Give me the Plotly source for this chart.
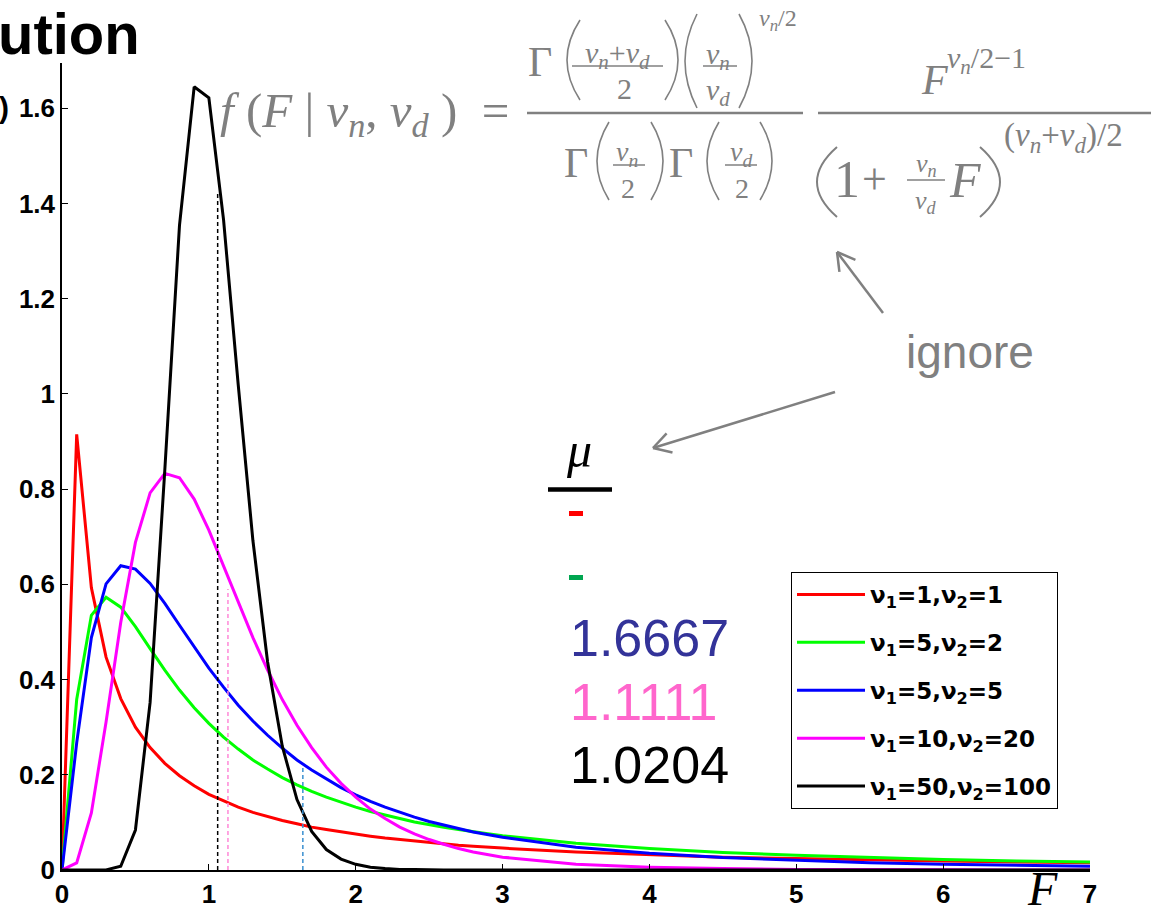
import math
import plotly.graph_objects as go

# ---------------- data ----------------
F_grid = [0.0, 0.1, 0.2, 0.3, 0.4, 0.5, 0.6, 0.7, 0.8, 0.9,
          1.0, 1.1, 1.2, 1.3, 1.4, 1.5, 1.6, 1.7, 1.8, 1.9,
          2.0, 2.1, 2.2, 2.3, 2.4, 2.5, 2.6, 2.7, 2.8, 2.9,
          3.0, 3.5, 4.0, 4.5, 5.0, 5.5, 6.0, 6.5, 7.0]

pdf_1_1 = [0.0, 0.915, 0.593, 0.447, 0.360, 0.300, 0.257, 0.224, 0.198, 0.177,
           0.159, 0.145, 0.132, 0.121, 0.112, 0.104, 0.097, 0.090, 0.085, 0.080,
           0.075, 0.071, 0.067, 0.064, 0.060, 0.058, 0.055, 0.052, 0.050, 0.048,
           0.046, 0.038, 0.032, 0.027, 0.024, 0.021, 0.019, 0.017, 0.015]

pdf_5_2 = [0.0, 0.358, 0.535, 0.573, 0.552, 0.511, 0.465, 0.420, 0.378, 0.341,
           0.308, 0.279, 0.254, 0.231, 0.212, 0.194, 0.179, 0.165, 0.153, 0.142,
           0.132, 0.123, 0.115, 0.108, 0.101, 0.095, 0.090, 0.085, 0.080, 0.076,
           0.072, 0.056, 0.045, 0.037, 0.031, 0.026, 0.022, 0.019, 0.017]

pdf_5_5 = [0.0, 0.267, 0.488, 0.601, 0.639, 0.632, 0.602, 0.560, 0.514, 0.468,
           0.424, 0.384, 0.346, 0.313, 0.283, 0.256, 0.231, 0.210, 0.191, 0.173,
           0.158, 0.144, 0.132, 0.121, 0.111, 0.102, 0.094, 0.087, 0.080, 0.074,
           0.069, 0.048, 0.035, 0.026, 0.020, 0.015, 0.012, 0.010, 0.008]

pdf_10_20 = [0.0, 0.015, 0.120, 0.311, 0.520, 0.688, 0.792, 0.833, 0.824, 0.779,
             0.714, 0.640, 0.563, 0.488, 0.420, 0.358, 0.304, 0.257, 0.216, 0.182,
             0.153, 0.128, 0.108, 0.090, 0.076, 0.064, 0.054, 0.045, 0.038, 0.032,
             0.027, 0.012, 0.006, 0.003, 0.001, 0.001, 0.0, 0.0, 0.0]

pdf_50_100 = [0.0, 0.0, 0.0, 0.0002, 0.008, 0.084, 0.352, 0.840, 1.354, 1.645,
              1.622, 1.366, 1.019, 0.692, 0.437, 0.260, 0.148, 0.081, 0.043, 0.023,
              0.012, 0.006, 0.003, 0.001, 0.001, 0.0, 0.0, 0.0, 0.0, 0.0,
              0.0, 0.0, 0.0, 0.0, 0.0, 0.0, 0.0, 0.0, 0.0]

series_values = [pdf_1_1, pdf_5_2, pdf_5_5, pdf_10_20, pdf_50_100]
series_names = ["ν<sub>1</sub>=1,ν<sub>2</sub>=1",
                "ν<sub>1</sub>=5,ν<sub>2</sub>=2",
                "ν<sub>1</sub>=5,ν<sub>2</sub>=5",
                "ν<sub>1</sub>=10,ν<sub>2</sub>=20",
                "ν<sub>1</sub>=50,ν<sub>2</sub>=100"]
series_colors = ["#FF0000", "#00FF00", "#0000FF", "#FF00FF", "#000000"]

# dashed mean markers (x position, height where they meet the curve)
mean_line_x = [1.06, 1.13, 1.64]
mean_line_top = [1.42, 0.59, 0.22]
mean_line_colors = ["#000000", "#FF88D8", "#3A8FD0"]

mean_labels = ["1.6667", "1.1111", "1.0204"]
mean_label_colors = ["#333399", "#FF66CC", "#000000"]

x_ticks = [0, 1, 2, 3, 4, 5, 6, 7]
y_ticks = [0, 0.2, 0.4, 0.6, 0.8, 1.0, 1.2, 1.4, 1.6]
y_tick_text = ["0", "0.2", "0.4", "0.6", "0.8", "1", "1.2", "1.4", "1.6"]

# ---------------- layout helpers ----------------
W, H = 1153, 915
PL, PR, PT, PB = 62, 1090, 63, 870


def px(x):
    return (x - PL) / (PR - PL)


def py(y):
    return (PB - y) / (PB - PT)


GRAY = "#808080"
SERIF = "Liberation Serif, Times New Roman, serif"
SANS = "Liberation Sans, Arial, sans-serif"

fig = go.Figure()
for i, (vals, name, col) in enumerate(zip(series_values, series_names, series_colors)):
    fig.add_trace(go.Scatter(x=F_grid, y=vals, mode="lines", name=name,
                             legendgroup=str(i),
                             line=dict(color=col, width=3)))

shapes = []
annotations = []

# dashed vertical mean lines
for xm, top, col in zip(mean_line_x, mean_line_top, mean_line_colors):
    shapes.append(dict(type="line", xref="x", yref="y", x0=xm, x1=xm, y0=0, y1=top,
                       line=dict(color=col, width=1.5, dash="4px,3px")))


def pline(x0, y0, x1, y1, color=GRAY, width=2):
    shapes.append(dict(type="line", xref="paper", yref="paper",
                       x0=px(x0), y0=py(y0), x1=px(x1), y1=py(y1),
                       line=dict(color=color, width=width)))


def paren(x_out, x_in, yt, yb, color=GRAY, width=1.6):
    xc = 2 * x_out - x_in
    ym = (yt + yb) / 2
    path = "M {},{} Q {},{} {},{}".format(px(x_in), py(yt), px(xc), py(ym), px(x_in), py(yb))
    shapes.append(dict(type="path", xref="paper", yref="paper", path=path,
                       line=dict(color=color, width=width)))


def text(x, y, s, size, color=GRAY, family=SERIF, xanchor="center", yanchor="middle", weight=None):
    f = dict(family=family, size=size, color=color)
    if weight:
        f["weight"] = weight
    annotations.append(dict(xref="paper", yref="paper", x=px(x), y=py(y), text=s,
                            showarrow=False, xanchor=xanchor, yanchor=yanchor, font=f))


def arrow(tail, tip, color=GRAY, width=2.5, head=20, ang=30):
    pline(tail[0], tail[1], tip[0], tip[1], color, width)
    dx, dy = tail[0] - tip[0], tail[1] - tip[1]
    L = math.hypot(dx, dy)
    ux, uy = dx / L, dy / L
    for s in (1, -1):
        a = math.radians(ang * s)
        rx = ux * math.cos(a) - uy * math.sin(a)
        ry = ux * math.sin(a) + uy * math.cos(a)
        pline(tip[0], tip[1], tip[0] + rx * head, tip[1] + ry * head, color, width)


nu_n = "<i>ν</i><sub><i>n</i></sub>"
nu_d = "<i>ν</i><sub><i>d</i></sub>"
sp = "&nbsp;"

# ----- formula -----
text(218, 113, "<i>f</i>" + sp + "(<i>F</i>" + sp + "|" + sp + nu_n + "," + sp + nu_d + sp + ")" + sp + sp + "=",
     49, xanchor="left")
pline(527, 113, 803, 113, width=2.5)
# numerator 1
text(540, 62, "Γ", 42)
paren(567, 580, 20, 100)
text(617, 55, nu_n + "+" + nu_d, 30)
pline(572, 66, 663, 66, width=1.5)
text(624, 89, "2", 30)
paren(678, 665, 20, 100)
paren(685, 697, 14, 108)
text(718, 56, nu_n, 30)
pline(703, 66, 737, 66, width=1.5)
text(718, 92, nu_d, 30)
paren(752, 739, 14, 108)
text(778, 20, nu_n + "/2", 24)
# denominator 1
text(576, 163, "Γ", 42)
paren(597, 609, 122, 200)
text(627, 153, nu_n, 28)
pline(613, 165, 645, 165, width=1.5)
text(628, 189, "2", 28)
paren(663, 651, 122, 200)
text(681, 163, "Γ", 42)
paren(707, 719, 122, 200)
text(741, 153, nu_d, 28)
pline(725, 165, 757, 165, width=1.5)
text(742, 189, "2", 28)
paren(772, 760, 122, 200)
# fraction 2
pline(818, 113, 1151, 113, width=2.5)
text(934, 80, "<i>F</i>", 42)
text(945, 60, nu_n + "/2−1", 30, xanchor="left")
paren(817, 837, 147, 217, width=2)
text(847, 179, "1", 52)
text(874, 179, "+", 44)
text(926, 165, nu_n, 26)
pline(907, 180, 945, 180, width=1.5)
text(926, 202, nu_d, 26)
text(965, 180, "<i>F</i>", 50)
paren(1000, 980, 147, 217, width=2)
text(1002, 137, "(" + nu_n + "+" + nu_d + ")/2", 33, xanchor="left")

# ----- "ignore" with arrows -----
text(970, 352, "ignore", 46, family=SANS)
arrow((883, 313), (837, 252))
arrow((835, 392), (653, 448))

# ----- mean column -----
text(579, 450, "<i>μ</i>", 50, color="black")
pline(548, 489.5, 612, 489.5, color="black", width=4.5)
pline(569, 513.5, 583, 513.5, color="#FF0000", width=5)
pline(569, 577.5, 583, 577.5, color="#00A650", width=5)
for lab, col, yc in zip(mean_labels, mean_label_colors, [638, 702, 765]):
    text(568, yc, lab, 52, color=col, family=SANS, xanchor="left")

# ----- cropped title / axis label pieces and F label -----
text(-4, 34, "ution", 58, color="black", family=SANS, xanchor="left", weight="bold")
text(11, 107, ")", 30, color="black", family=SANS, xanchor="right", weight="bold")
text(1042, 888, "<i>F</i>", 48, color="black")

fig.update_layout(
    width=W, height=H,
    margin=dict(l=PL, r=W - PR, t=PT, b=H - PB, pad=0, autoexpand=False),
    paper_bgcolor="white", plot_bgcolor="white",
    showlegend=True,
    legend=dict(x=px(791), y=py(572), xanchor="left", yanchor="top",
                bordercolor="black", borderwidth=1, bgcolor="white",
                font=dict(family="DejaVu Sans, Verdana, sans-serif", size=23, color="black", weight="bold"),
                tracegroupgap=15, itemwidth=68),
    shapes=shapes, annotations=annotations,
    xaxis=dict(range=[0, 7], tickvals=x_ticks, ticktext=[str(t) for t in x_ticks],
               showgrid=False, zeroline=False, showline=True, linecolor="black", linewidth=1.5,
               ticks="inside", ticklen=6, tickcolor="black", automargin=False,
               tickfont=dict(family=SANS, size=26, color="black", weight="bold")),
    yaxis=dict(range=[0, 1.695], tickvals=y_ticks, ticktext=y_tick_text,
               showgrid=False, zeroline=False, showline=True, linecolor="black", linewidth=1.5,
               ticks="inside", ticklen=6, tickcolor="black", automargin=False,
               tickfont=dict(family=SANS, size=26, color="black", weight="bold")),
)

fig.write_html("out.html", config={"displayModeBar": False},
               post_script="document.body.style.margin='0px';")
